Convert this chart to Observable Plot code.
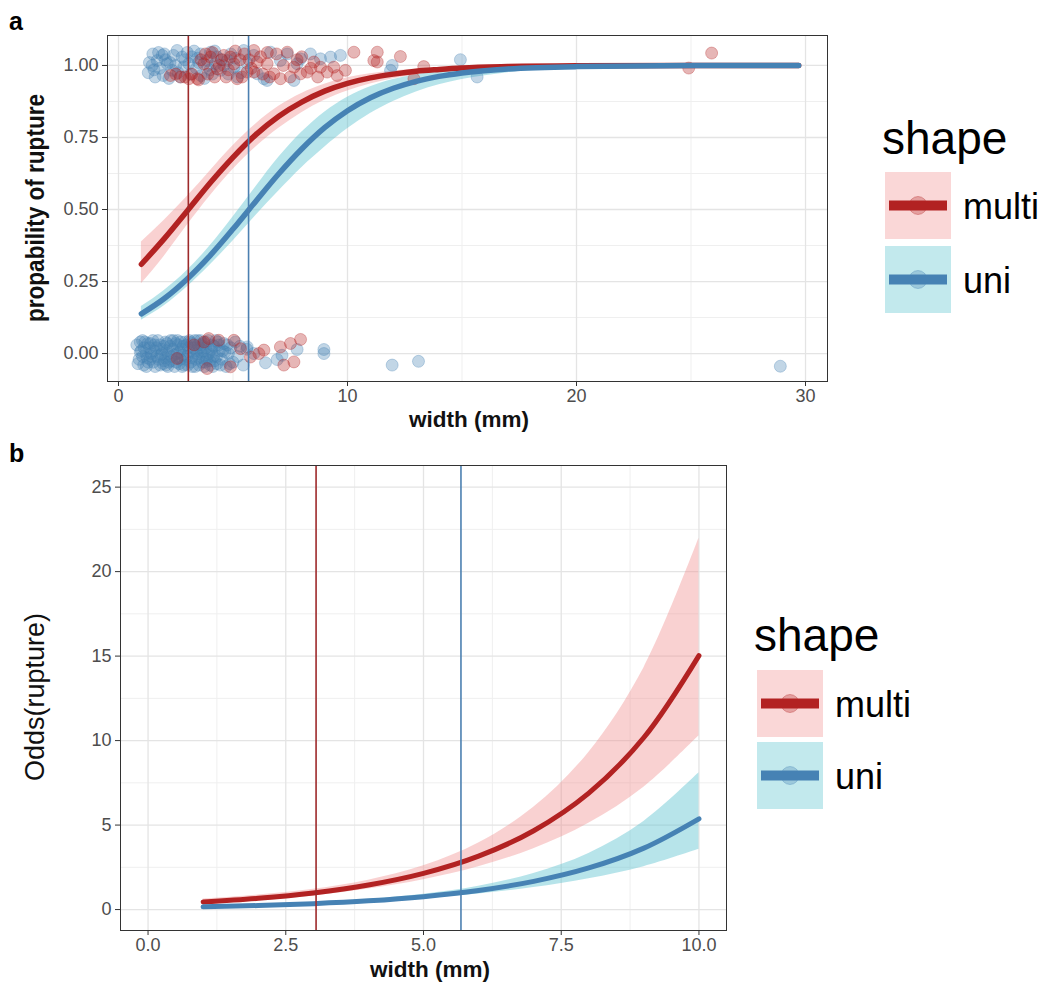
<!DOCTYPE html>
<html><head><meta charset="utf-8">
<script src="https://cdn.jsdelivr.net/npm/d3@7"></script>
<script src="https://cdn.jsdelivr.net/npm/@observablehq/plot@0.6"></script>
<style>
body{margin:0;background:#fff;}
#wrap{position:relative;width:1043px;height:983px;overflow:hidden;background:#fff;}
#wrap > svg, #wrap > div{position:absolute;}
</style></head><body><div id="wrap"></div>
<script>
// ---------- data ----------
const shapes = ["multi", "uni"];
const cutoffMulti = 3.05;   // width where odds = 1 (multi)
const cutoffUni = 5.68;     // width where odds = 1 (uni)

// panel a: fitted probability and 95% band
const curveWidthA = [1,2,3,4,5,6,7,8,9,10,11,12,13,14,15,17,20,25,29.7];
const multiFit  = [0.310,0.399,0.495,0.592,0.681,0.760,0.824,0.873,0.911,0.938,0.957,0.970,0.980,0.986,0.991,0.996,0.999,1.000,1.000];
const multiLow  = [0.242,0.338,0.445,0.547,0.639,0.717,0.782,0.836,0.879,0.911,0.936,0.954,0.967,0.977,0.983,0.992,0.997,0.9995,1.000];
const multiHigh = [0.387,0.463,0.545,0.634,0.721,0.797,0.858,0.903,0.935,0.957,0.971,0.981,0.988,0.992,0.995,0.998,0.999,1.000,1.000];
const uniFit    = [0.138,0.191,0.259,0.340,0.432,0.529,0.624,0.710,0.784,0.843,0.888,0.921,0.945,0.962,0.974,0.988,0.996,0.9995,1.000];
const uniLow    = [0.116,0.166,0.231,0.307,0.391,0.479,0.564,0.645,0.716,0.780,0.833,0.875,0.908,0.933,0.951,0.975,0.991,0.998,0.9997];
const uniHigh   = [0.163,0.219,0.288,0.374,0.474,0.579,0.681,0.768,0.838,0.890,0.926,0.951,0.968,0.979,0.986,0.994,0.998,1.000,1.000];

// panel a: observed (jittered) points [width, rupture]
const multiPoints = [
 [2.27,0.965],[2.71,0.960],[3.07,0.954],[3.44,0.954],[3.73,1.006],[4.02,1.029],[4.31,0.988],[4.60,1.035],[4.89,1.029],[5.04,1.006],
 [5.18,0.954],[5.62,0.977],[5.91,1.052],[6.06,1.012],[5.91,0.977],[6.49,1.006],[6.78,0.971],[7.07,0.954],[7.37,1.046],[7.66,0.994],
 [7.95,0.971],[8.24,0.977],[8.53,1.012],[8.82,0.994],[9.11,0.977],[9.40,0.994],[9.55,0.965],[9.91,0.983],[10.28,1.046],[11.15,1.017],
 [11.30,1.046],[11.30,1.012],[12.31,1.031],[12.90,0.954],[13.33,0.996],[24.9,0.991],[25.9,1.043],
 [3.90,0.970],[4.40,1.000],[4.70,0.960],[5.30,1.020],[5.50,1.040],[6.20,1.030],[6.60,0.960],[7.20,1.000],[8.00,1.030],[8.70,0.960],
 [4.10,1.045],[3.60,1.020],[5.80,0.990],[6.90,1.040],[2.50,0.970],
 [2.90,0.960],[3.20,0.970],[3.50,0.950],[3.80,1.040],[4.20,0.960],[4.50,1.020],[4.80,0.985],[5.10,1.050],[5.40,0.960],[5.70,1.020],
 [6.30,0.970],[6.50,1.045],[7.50,0.960],[7.80,1.020],[8.40,0.990],
 [2.56,-0.017],[3.73,0.040],[3.94,0.052],[4.38,0.046],[4.89,-0.046],[5.04,0.046],[5.33,0.017],[5.76,-0.012],[6.13,0.000],[6.35,0.012],
 [7.07,0.023],[7.22,-0.040],[7.51,0.035],[7.66,-0.029],[7.95,0.049],[3.87,-0.052],[3.30,0.030]
];
const uniPoints = [
 [1.47,1.000],[1.69,1.017],[1.91,1.035],[2.13,1.006],[2.56,1.052],[2.78,1.029],[2.34,0.983],[3.07,1.006],[3.58,1.040],[3.87,1.017],
 [4.02,1.046],[4.24,1.006],[4.45,0.983],[4.75,1.017],[5.04,0.994],[5.47,1.052],[5.91,1.035],[6.06,0.971],[6.35,0.954],[6.64,1.046],
 [7.07,1.017],[7.37,1.040],[7.80,1.006],[7.95,1.023],[8.38,1.040],[8.82,1.023],[9.26,1.029],[9.69,1.035],[7.66,0.948],[6.49,0.948],
 [11.95,1.000],[11.88,0.983],[14.93,1.020],[15.66,0.960],
 [1.30,0.975],[1.60,0.960],[1.80,0.990],[2.00,1.040],[2.50,1.000],[2.70,0.960],[3.20,1.030],[3.40,0.990],[3.60,0.965],[3.90,1.000],
 [4.10,0.970],[4.30,1.030],[4.60,1.000],[4.90,1.040],[5.20,0.960],[5.60,1.010],[3.30,1.050],[2.90,1.020],[1.50,1.040],[2.20,0.955],
 [1.35,1.010],[1.55,0.985],[1.75,1.045],[1.95,0.965],[2.05,1.020],[2.40,1.035],[2.60,0.975],[2.85,0.995],[3.00,1.045],[3.15,0.970],
 [3.50,1.010],[3.75,0.955],[4.00,0.985],[4.20,1.050],[4.50,1.020],[4.80,0.970],[5.10,1.025],[5.35,0.975],[3.45,1.025],[2.25,1.010],
 [0.80,0.030],[0.90,-0.020],[1.00,0.010],[1.10,-0.040],[1.15,0.040],[1.20,0.000],[1.30,-0.030],[1.35,0.020],[1.45,-0.010],[1.50,0.045],
 [1.60,-0.045],[1.65,0.020],[1.75,-0.020],[1.80,0.030],[1.90,0.000],[1.95,-0.035],[2.05,0.040],[2.10,0.010],[2.20,-0.030],[2.25,0.025],
 [2.30,-0.010],[2.40,0.045],[2.45,-0.045],[2.55,0.000],[2.60,0.030],[2.70,-0.020],[2.75,0.015],[2.85,-0.040],[2.90,0.040],[3.00,-0.010],
 [3.05,0.020],[3.15,-0.030],[3.20,0.035],[3.30,0.000],[3.35,-0.045],[3.45,0.045],[3.50,-0.015],[3.55,0.020],[3.65,-0.030],[3.70,0.010],
 [3.80,0.040],[3.85,-0.020],[3.95,0.000],[4.00,-0.040],[4.10,0.030],[4.15,-0.010],[4.25,0.045],[4.30,-0.035],[4.40,0.010],[4.50,-0.020],
 [4.60,0.035],[4.70,-0.045],[4.80,0.000],[4.90,0.020],[5.00,-0.030],[5.10,0.040],[5.20,-0.010],[5.30,0.025],[5.45,-0.040],[5.60,0.015],
 [1.05,0.045],[1.25,-0.015],[1.55,0.010],[1.85,-0.005],[2.15,-0.045],[2.50,0.035],[2.80,-0.005],[3.10,0.045],[3.40,0.010],[3.75,-0.045],
 [4.05,0.015],[4.35,0.040],[4.65,0.005],[0.95,0.005],[1.40,0.035],[2.00,-0.025],[2.65,-0.035],[3.60,0.030],[4.20,-0.025],[4.85,-0.035],
 [0.85,-0.035],[0.95,0.040],[1.05,-0.010],[1.12,0.020],[1.22,-0.045],[1.28,0.035],[1.38,-0.020],[1.42,0.000],[1.52,-0.030],[1.58,0.030],
 [1.68,-0.010],[1.72,0.045],[1.82,-0.040],[1.88,0.015],[1.98,0.025],[2.02,-0.015],[2.08,-0.040],[2.12,0.035],[2.18,0.000],[2.28,0.045],
 [2.32,-0.025],[2.38,0.015],[2.42,-0.005],[2.52,-0.030],[2.58,0.045],[2.62,-0.015],[2.68,0.005],[2.72,0.040],[2.78,-0.045],[2.82,0.025],
 [2.92,-0.020],[2.98,0.030],[3.02,-0.040],[3.08,0.005],[3.12,0.040],[3.18,-0.015],[3.22,-0.045],[3.28,0.020],[3.32,0.045],[3.38,-0.020],
 [3.42,0.000],[3.48,0.030],[3.52,-0.040],[3.58,0.045],[3.62,0.005],[3.68,-0.015],[3.72,0.035],[3.78,-0.030],[3.82,0.020],[3.88,-0.005],
 [3.92,0.045],[3.98,-0.025],[4.08,0.005],[4.12,-0.045],[4.18,0.025],[4.28,-0.010],[4.38,0.030],[4.45,-0.040],[4.55,0.010],[4.75,0.030],
 [5.62,0.023],[5.91,0.000],[6.42,-0.032],[6.93,-0.021],[7.14,-0.006],[7.80,0.014],[8.97,0.014],[8.97,0.000],[11.95,-0.040],[13.10,-0.027],[28.9,-0.044]
];

// panel b: fitted odds and 95% band
const curveWidthB = [1,2,3,4,5,6,7,8,9,10];
const multiOdds     = [0.449,0.664,0.980,1.448,2.138,3.158,4.665,6.890,10.18,15.03];
const multiOddsLow  = [0.320,0.512,0.803,1.209,1.768,2.535,3.597,5.104,7.243,10.28];
const multiOddsHigh = [0.631,0.861,1.197,1.733,2.586,3.935,6.050,9.300,14.30,21.98];
const uniOdds       = [0.161,0.237,0.350,0.517,0.764,1.128,1.667,2.461,3.635,5.37];
const uniOddsLow    = [0.131,0.200,0.301,0.445,0.645,0.924,1.298,1.823,2.536,3.564];
const uniOddsHigh   = [0.196,0.281,0.407,0.601,0.906,1.378,2.140,3.322,5.211,8.09];

// ticks
const xTicksA = [0,10,20,30], xMinorA = [5,15,25];
const yTicksA = [0,0.25,0.5,0.75,1], yMinorA = [0.125,0.375,0.625,0.875];
const xTicksB = [0,2.5,5,7.5,10], xMinorB = [1.25,3.75,6.25,8.75];
const yTicksB = [0,5,10,15,20,25], yMinorB = [2.5,7.5,12.5,17.5,22.5];

// ---------- styles ----------
const RED = "#b22222", BLUE = "#4682b4";
const RED_V = "#9e2a2b", BLUE_V = "#4c80b1";
const PINK = "#f08b8b", CYAN = "#5fc4d0";
const FONT = "'Liberation Sans', Arial, sans-serif";

const tab = (xs, f, lo, hi) => xs.map((w, i) => ({w, fit: f[i], lo: lo[i], hi: hi[i]}));
const multiA = tab(curveWidthA, multiFit, multiLow, multiHigh);
const uniA = tab(curveWidthA, uniFit, uniLow, uniHigh);
const multiB = tab(curveWidthB, multiOdds, multiOddsLow, multiOddsHigh);
const uniB = tab(curveWidthB, uniOdds, uniOddsLow, uniOddsHigh);

const grid = (xMaj, xMin, yMaj, yMin) => [
  Plot.ruleX(xMin, {stroke: "#efefef", strokeWidth: 1}),
  Plot.ruleY(yMin, {stroke: "#efefef", strokeWidth: 1}),
  Plot.ruleX(xMaj, {stroke: "#e4e4e4", strokeWidth: 1.3}),
  Plot.ruleY(yMaj, {stroke: "#e4e4e4", strokeWidth: 1.3})
];
const plotStyle = {fontFamily: FONT, fontSize: "18px", color: "#333", background: "transparent", overflow: "visible"};
const dotOpts = (col) => ({x: d => d[0], y: d => d[1], r: 6, fill: col, fillOpacity: 0.33, stroke: col, strokeOpacity: 0.4, strokeWidth: 0.8});

const panelA = Plot.plot({
  width: 840, height: 440,
  marginLeft: 107, marginRight: 13, marginTop: 35, marginBottom: 59,
  x: {domain: [-0.48, 30.96]},
  y: {domain: [-0.097, 1.104]},
  style: plotStyle,
  marks: [
    ...grid(xTicksA, xMinorA, yTicksA, yMinorA),
    Plot.areaY(multiA, {x: "w", y1: "lo", y2: "hi", fill: PINK, fillOpacity: 0.4, curve: "monotone-x"}),
    Plot.areaY(uniA, {x: "w", y1: "lo", y2: "hi", fill: CYAN, fillOpacity: 0.45, curve: "monotone-x"}),
    Plot.dot(uniPoints, dotOpts(BLUE)),
    Plot.dot(multiPoints, dotOpts(RED)),
    Plot.line(multiA, {x: "w", y: "fit", stroke: RED, strokeWidth: 5.5, curve: "monotone-x"}),
    Plot.line(uniA, {x: "w", y: "fit", stroke: BLUE, strokeWidth: 5.5, curve: "monotone-x"}),
    Plot.ruleX([cutoffMulti], {stroke: RED_V, strokeWidth: 1.6}),
    Plot.ruleX([cutoffUni], {stroke: BLUE_V, strokeWidth: 1.6}),
    Plot.frame({stroke: "#333", strokeWidth: 1}),
    Plot.axisX({ticks: xTicksA, tickFormat: d3.format("d"), tickSize: 5, tickPadding: 3, label: null, fontSize: 18, fill: "#4d4d4d"}),
    Plot.axisY({ticks: yTicksA, tickFormat: d3.format(".2f"), tickSize: 5, tickPadding: 4, label: null, fontSize: 18, fill: "#4d4d4d"})
  ]
});

const panelB = Plot.plot({
  width: 740, height: 543,
  marginLeft: 120, marginRight: 14, marginTop: 25, marginBottom: 53,
  x: {domain: [-0.5, 10.5]},
  y: {domain: [-1.24, 26.28]},
  style: plotStyle,
  marks: [
    ...grid(xTicksB, xMinorB, yTicksB, yMinorB),
    Plot.areaY(multiB, {x: "w", y1: "lo", y2: "hi", fill: PINK, fillOpacity: 0.4, curve: "catmull-rom"}),
    Plot.areaY(uniB, {x: "w", y1: "lo", y2: "hi", fill: CYAN, fillOpacity: 0.45, curve: "catmull-rom"}),
    Plot.line(multiB, {x: "w", y: "fit", stroke: RED, strokeWidth: 5, curve: "catmull-rom"}),
    Plot.line(uniB, {x: "w", y: "fit", stroke: BLUE, strokeWidth: 5, curve: "catmull-rom"}),
    Plot.ruleX([cutoffMulti], {stroke: RED_V, strokeWidth: 1.6}),
    Plot.ruleX([cutoffUni], {stroke: BLUE_V, strokeWidth: 1.6}),
    Plot.frame({stroke: "#333", strokeWidth: 1}),
    Plot.axisX({ticks: xTicksB, tickFormat: d3.format(".1f"), tickSize: 5, tickPadding: 3, label: null, fontSize: 18, fill: "#4d4d4d"}),
    Plot.axisY({ticks: yTicksB, tickFormat: d3.format("d"), tickSize: 5, tickPadding: 4, label: null, fontSize: 18, fill: "#4d4d4d"})
  ]
});

const wrap = document.getElementById("wrap");
panelA.style.left = "0px"; panelA.style.top = "0px";
panelB.style.left = "0px"; panelB.style.top = "440px";
wrap.appendChild(panelA);
wrap.appendChild(panelB);

// ---------- overlay: titles, panel letters, legends ----------
const ov = d3.select(wrap).append("svg")
  .attr("width", 1043).attr("height", 983)
  .style("left", "0px").style("top", "0px")
  .attr("font-family", FONT);

const txt = (x, y, s, opts = {}) => {
  const t = ov.append("text").attr("x", x).attr("y", y).text(s)
    .attr("font-size", opts.size || 18).attr("fill", opts.fill || "#000")
    .attr("font-weight", opts.weight || "normal")
    .attr("text-anchor", opts.anchor || "start");
  if (opts.rotate) t.attr("transform", `rotate(-90,${x},${y})`);
  return t;
};

txt(9, 30, "a", {size: 25, weight: "bold"});
txt(9, 462, "b", {size: 25, weight: "bold"});
txt(469, 427, "width (mm)", {size: 22.5, weight: "bold", anchor: "middle", fill: "#111"});
txt(430, 977, "width (mm)", {size: 22.5, weight: "bold", anchor: "middle", fill: "#111"});
txt(44, 208, "propability of rupture", {size: 25, anchor: "middle", rotate: true, fill: "#111", weight: "bold"}).attr("textLength", 228).attr("lengthAdjust", "spacingAndGlyphs");
txt(44, 697, "Odds(rupture)", {size: 27, anchor: "middle", rotate: true, fill: "#111"});

function legend(x0, titleY, keyTops, keyW, keyH, labelX) {
  txt(x0 - 3, titleY, "shape", {size: 46});
  shapes.forEach((s, i) => {
    const top = keyTops[i];
    const cy = top + keyH / 2;
    const col = i === 0 ? RED : BLUE;
    const fillC = i === 0 ? PINK : CYAN;
    const op = i === 0 ? 0.35 : 0.38;
    ov.append("rect").attr("x", x0).attr("y", top).attr("width", keyW).attr("height", keyH)
      .attr("fill", fillC).attr("fill-opacity", op);
    ov.append("circle").attr("cx", x0 + keyW / 2).attr("cy", cy).attr("r", 9)
      .attr("fill", col).attr("fill-opacity", 0.3).attr("stroke", col).attr("stroke-opacity", 0.35);
    ov.append("line").attr("x1", x0 + 4).attr("x2", x0 + keyW - 4).attr("y1", cy).attr("y2", cy)
      .attr("stroke", col).attr("stroke-width", 10);
    txt(labelX, cy + 13, s, {size: 36});
  });
}
legend(885, 154, [172, 246], 66, 67, 963);
legend(757, 651, [670, 742], 66, 67, 835);
</script></body></html>
